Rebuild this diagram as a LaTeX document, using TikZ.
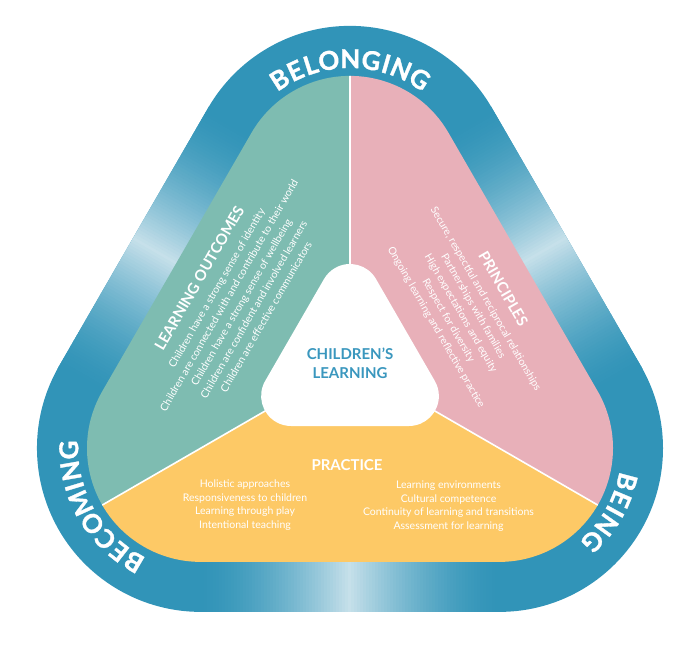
\documentclass[tikz,border=0pt]{standalone}
\usepackage{fontspec}
\setmainfont{Lato}
\newfontfamily\bandfont[BoldFeatures={FakeBold=1.2}]{Lato}
\usetikzlibrary{calc}
\definecolor{band}{HTML}{3194B8}
\definecolor{bandlight}{HTML}{C6E0EA}
\definecolor{locol}{HTML}{7EBCB1}
\definecolor{prcol}{HTML}{E8B0B9}
\definecolor{pccol}{HTML}{FDC966}
\definecolor{ctext}{HTML}{3A97BE}
\newcommand\rtripath[3]{($(#1)+(90:#2)+(30:#3)$) arc[start angle=30,end angle=150,radius=#3] -- ($(#1)+(210:#2)+(150:#3)$) arc[start angle=150,end angle=270,radius=#3] -- ($(#1)+(330:#2)+(270:#3)$) arc[start angle=270,end angle=390,radius=#3] -- cycle}
\newcommand\headfont{\fontsize{15}{18}\selectfont\bfseries}
\newcommand\bodyfont{\fontsize{10.5}{14.3}\selectfont}
\tikzset{
  bandletter/.style={white, font=\bandfont\bfseries\fontsize{26}{26}\selectfont, inner sep=0pt, anchor=base},
  sectortext/.style={white, font=\bodyfont, align=center, inner sep=0pt},
  divider/.style={white, line width=1.6pt},
}
\begin{document}
\begin{tikzpicture}[x=1pt,y=1pt]
\useasboundingbox (0,0) rectangle (685,654);
\coordinate (C) at (350,292);
\coordinate (T0) at ($(C)+(90:172.4)$);
\coordinate (L0) at ($(C)+(210:172.4)$);
\coordinate (R0) at ($(C)+(330:172.4)$);
% outer band with highlights
\begin{scope}
  \clip \rtripath{C}{172.4}{163.7};
  \fill[band] (0,0) rectangle (685,654);
  \foreach \ang/\mx/\my in {0/350/66.1, 60/155.2/403.5, -60/544.8/403.5} {
    \begin{scope}[shift={(\mx,\my)}, rotate=\ang]
      \foreach \d in {-150,-147,...,150} {
        \pgfmathsetmacro\p{100*(max(0,1-abs(\d)/150))^1.6}
        \fill[bandlight!\p!band] (\d-1.8,-40) rectangle (\d+1.8,40);
      }
    \end{scope}
  }
\end{scope}
% sectors
\coordinate (dT) at ($(C)+(90:400)$);
\coordinate (dL) at ($(C)+(210:400)$);
\coordinate (dR) at ($(C)+(330:400)$);
\begin{scope}
  \clip \rtripath{C}{172.4}{113.7};
  \fill[locol] (C) -- (dT) -- ($(C)+(150:800)$) -- (dL) -- cycle;
  \fill[pccol] (C) -- (dL) -- ($(C)+(270:800)$) -- (dR) -- cycle;
  \fill[prcol] (C) -- (dR) -- ($(C)+(30:800)$) -- (dT) -- cycle;
  \draw[divider] (C) -- (dT) (C) -- (dL) (C) -- (dR);
\end{scope}
% centre
\fill[white] \rtripath{C}{68}{30};
\node[ctext, font=\fontsize{15}{19}\selectfont\bfseries, align=center, inner sep=0pt] (cl) at (350,291) {CHILDREN’S\\LEARNING};
% band words
\foreach \ch/\a [count=\i] in {B/122.6, E/114.7, L/107.5, O/99.3, N/89.9, G/80.7, I/73.9, N/67.0, G/57.8}
  \node[bandletter, rotate=\a-90] (bel\i) at ($(T0)+(\a:121.5)$) {\ch};
\foreach \ch/\a [count=\i] in {B/239.6, E/231.8, C/223.8, O/214.8, M/204.6, I/196.9, N/189.9, G/180.8}
  \node[bandletter, rotate=\a-90] (bec\i) at ($(L0)+(\a:122.5)$) {\ch};
\foreach \ch/\a [count=\i] in {B/345.2, E/337.3, I/331.3, N/324.4, G/315.2}
  \node[bandletter, rotate=\a-90] (bei\i) at ($(R0)+(\a:122.5)$) {\ch};
% sector texts
\node[sectortext, rotate=60] (lo) at (232,357) {{\headfont LEARNING OUTCOMES}\\[4pt]
Children have a strong sense of identity\\
Children are connected with and contribute to their world\\
Children have a strong sense of wellbeing\\
Children are confident and involved learners\\
Children are effective communicators};
\node[sectortext, rotate=-60] (pr) at (470,346) {{\headfont PRINCIPLES}\\[4pt]
Secure, respectful and reciprocal relationships\\
Partnerships with families\\
High expectations and equity\\
Respect for diversity\\
Ongoing learning and reflective practice};
\node[white, font=\headfont, anchor=base, inner sep=0pt] (pc) at (347,184) {PRACTICE};
\node[sectortext, font=\fontsize{10.5}{13.5}\selectfont] (pcl) at (245,149) {Holistic approaches\\
Responsiveness to children\\
Learning through play\\
Intentional teaching};
\node[sectortext, font=\fontsize{10.5}{13.5}\selectfont] (pcr) at (448.5,148) {Learning environments\\
Cultural competence\\
Continuity of learning and transitions\\
Assessment for learning};
\end{tikzpicture}
\end{document}
